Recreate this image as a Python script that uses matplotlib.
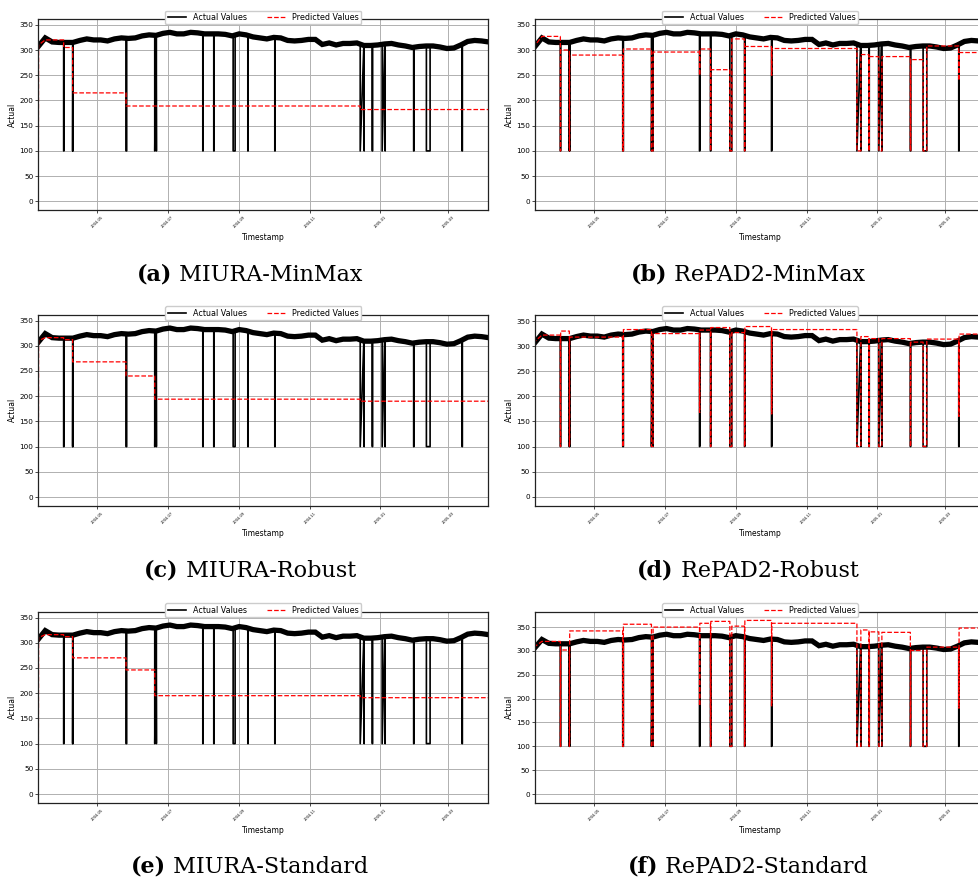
import numpy as np
import pandas as pd
import matplotlib.pyplot as plt
import matplotlib.dates as mdates

# zacatek a konec casove rady (hodinova data)
t_start = pd.Timestamp("2004-03-10 18:00")
t_end = pd.Timestamp("2005-04-04 14:00")

# uroven "Actual", krok 6 dni
band_values = [307, 324, 316, 315, 315, 315, 319, 322, 320, 320, 318, 322, 324, 323,
               324, 328, 330, 329, 333, 335, 332, 332, 335, 334, 332, 332, 332, 331,
               328, 332, 330, 326, 324, 322, 325, 324, 319, 318, 319, 321, 321, 311,
               314, 310, 313, 313, 314, 309, 309, 310, 312, 313, 310, 308, 305, 307,
               308, 308, 306, 303, 304, 310, 317, 319, 318, 316]
band_dates = pd.date_range(t_start, periods=len(band_values), freq="6D")

# poruchy - hodnota spadne na 100
anom_start = ["2004-04-01 17:00", "2004-04-09 12:00", "2004-05-25 18:00", "2004-06-19 15:00",
              "2004-07-31 06:00", "2004-08-09 18:00", "2004-08-26 13:00", "2004-09-08 06:00",
              "2004-10-01 15:00", "2004-12-14 15:00", "2004-12-25 01:00", "2005-01-02 15:00",
              "2005-01-29 22:00", "2005-02-09 23:00", "2005-03-12 20:00"]
anom_end = ["2004-04-02 00:00", "2004-04-09 19:00", "2004-05-26 08:00", "2004-06-21 01:00",
            "2004-07-31 13:00", "2004-08-10 01:00", "2004-08-28 06:00", "2004-09-08 13:00",
            "2004-10-01 22:00", "2004-12-18 01:00", "2004-12-25 08:00", "2005-01-05 06:00",
            "2005-01-30 05:00", "2005-02-13 04:00", "2005-03-13 03:00"]
anom_top = [316, 315, 323, 329, 332, 332, 328, 330, 325, 309, 310, 312, 305, 308, 310]
anom_low = 100

warmup_values = [0, 310]

# predikce: hladiny mezi poruchami (16) a hodnota behem poruchy (15, nan = bez propadu)
panels = ["MIURA-MinMax", "RePAD2-MinMax", "MIURA-Robust", "RePAD2-Robust",
          "MIURA-Standard", "RePAD2-Standard"]
tags = ["(a)", "(b)", "(c)", "(d)", "(e)", "(f)"]
nan = np.nan
pred_levels = {
    "MIURA-MinMax": [320, 305, 215, 189, 189, 189, 189, 189, 189, 189, 182, 182, 182, 182, 182, 182],
    "RePAD2-MinMax": [327, 300, 290, 302, 296, 302, 261, 322, 307, 303, 291, 287, 287, 281, 308, 295],
    "MIURA-Robust": [316, 312, 268, 240, 194, 194, 194, 194, 194, 194, 190, 190, 190, 190, 190, 190],
    "RePAD2-Robust": [322, 330, 318, 333, 325, 332, 337, 327, 339, 333, 319, 315, 315, 308, 314, 324],
    "MIURA-Standard": [316, 312, 270, 246, 195, 195, 195, 195, 195, 195, 191, 191, 191, 191, 191, 191],
    "RePAD2-Standard": [320, 302, 342, 356, 350, 358, 362, 352, 364, 358, 344, 340, 339, 301, 308, 348],
}
pred_dips = {
    "MIURA-MinMax": [nan] * 15,
    "RePAD2-MinMax": [100, 100, 100, 100, 250, 100, 100, 100, 250, 100, 100, 100, 100, 100, 240],
    "MIURA-Robust": [nan] * 15,
    "RePAD2-Robust": [100, 100, 100, 100, 168, 100, 100, 100, 165, 100, 100, 100, 100, 100, 160],
    "MIURA-Standard": [nan] * 15,
    "RePAD2-Standard": [100, 100, 100, 100, 185, 100, 100, 100, 185, 100, 100, 100, 100, 100, 180],
}
ylims = [(-17.2, 361.5), (-17.2, 361.5), (-17.2, 361.5), (-17.9, 362.6), (-17.2, 361.5), (-18.2, 382.3)]


def actual_series():
    pts = list(zip(band_dates, band_values))
    for s, e, top in zip(anom_start, anom_end, anom_top):
        s, e = pd.Timestamp(s), pd.Timestamp(e)
        pts += [(s, top), (s, anom_low), (e, anom_low), (e, top)]
    pts.sort(key=lambda p: p[0])
    return [p[0] for p in pts], [p[1] for p in pts]


def predicted_series(name):
    lv, dp = pred_levels[name], pred_dips[name]
    xs = [t_start, t_start + pd.Timedelta(hours=6), band_dates[1]]
    ys = [warmup_values[0], warmup_values[1], lv[0]]
    for k, (s, e) in enumerate(zip(anom_start, anom_end)):
        s, e = pd.Timestamp(s), pd.Timestamp(e)
        xs.append(s)
        ys.append(lv[k])
        if not np.isnan(dp[k]):
            xs += [s, e, e]
            ys += [dp[k], dp[k], lv[k + 1]]
        else:
            xs.append(s)
            ys.append(lv[k + 1])
    xs.append(t_end)
    ys.append(lv[-1])
    return xs, ys


W, H = 979, 886
fig = plt.figure(figsize=(W / 100, H / 100), dpi=100)

ax_left = [38.3, 535]
ax_top = [19, 314.7, 611.7]
ax_w, ax_h = 450, 191
cap_y = [275, 571, 867]
cap_x = [250, 748]

act_x, act_y = actual_series()
renderer = fig.canvas.get_renderer()

for i, name in enumerate(panels):
    row, col = divmod(i, 2)
    ax = fig.add_axes([ax_left[col] / W, 1 - (ax_top[row] + ax_h) / H, ax_w / W, ax_h / H])
    ax.plot(band_dates, band_values, color="black", lw=3.8, solid_joinstyle="miter")
    ax.plot(act_x, act_y, color="black", lw=1.2, label="Actual Values")
    px, py = predicted_series(name)
    ax.plot(px, py, color="red", ls="--", lw=0.9, label="Predicted Values")

    ax.set_xlim(t_start, t_end)
    ax.set_ylim(*ylims[i])
    ax.set_yticks(range(0, 351, 50))
    ax.xaxis.set_major_locator(mdates.MonthLocator(bymonth=[1, 3, 5, 7, 9, 11]))
    ax.xaxis.set_major_formatter(mdates.DateFormatter("%Y-%m"))
    ax.tick_params(axis="x", labelsize=2.6, rotation=45, length=2, width=0.5, pad=2)
    ax.tick_params(axis="y", labelsize=5.2, length=2, width=0.5, pad=1.5)
    ax.grid(True, color="#b0b0b0", lw=0.7)
    for sp in ax.spines.values():
        sp.set_linewidth(0.9)
        sp.set_color("#222222")
    ax.set_xlabel("Timestamp", fontsize=5.5, labelpad=3)
    ax.set_ylabel("Actual", fontsize=5.5, labelpad=2)
    ax.legend(loc="upper center", bbox_to_anchor=(0.5, 1.065), ncol=2, fontsize=5.8,
              frameon=True, fancybox=True, framealpha=1, edgecolor="#cccccc",
              handlelength=2.3, columnspacing=2.5, borderpad=0.3)

    # popisek pod grafem
    t1 = fig.text(0, 0, tags[i], fontsize=16, fontweight="bold", family="DejaVu Serif", va="center")
    t2 = fig.text(0, 0, " " + name, fontsize=16, family="DejaVu Serif", va="center")
    w1 = t1.get_window_extent(renderer).width
    w2 = t2.get_window_extent(renderer).width
    x0 = cap_x[col] - (w1 + w2) / 2
    t1.set_position((x0 / W, 1 - cap_y[row] / H))
    t2.set_position(((x0 + w1) / W, 1 - cap_y[row] / H))

fig.savefig("out.png", dpi=100)
plt.close(fig)
